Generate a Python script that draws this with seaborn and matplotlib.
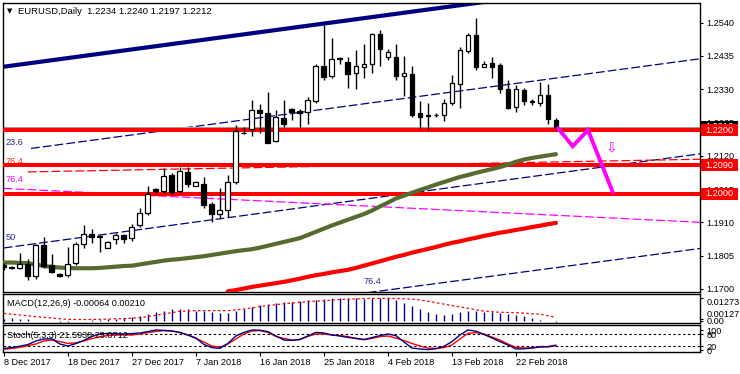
import numpy as np
import matplotlib
matplotlib.use("Agg")
import matplotlib.pyplot as plt
import matplotlib.transforms as mtransforms
from matplotlib.patches import Rectangle
import seaborn as sns

# ---------------- data ----------------
date_labels = ["8 Dec 2017", "18 Dec 2017", "27 Dec 2017", "7 Jan 2018", "16 Jan 2018",
               "25 Jan 2018", "4 Feb 2018", "13 Feb 2018", "22 Feb 2018"]
date_bars = [0, 8, 16, 24, 32, 40, 48, 56, 64]

opens = [1.1775, 1.1769, 1.1766, 1.1777, 1.1741, 1.1837, 1.1774, 1.1746, 1.1745, 1.1783,
         1.1840, 1.1873, 1.1866, 1.1830, 1.1856, 1.1869, 1.1859, 1.1900, 1.1938, 1.2016,
         1.2009, 1.2059, 1.2009, 1.2068, 1.2026, 1.2030, 1.1967, 1.1935, 1.1948, 1.2036,
         1.2193, 1.2203, 1.2264, 1.2256, 1.2165, 1.2239, 1.2267, 1.2261, 1.2257, 1.2293,
         1.2403, 1.2373, 1.2424, 1.2415, 1.2381, 1.2400, 1.2411, 1.2504, 1.2432, 1.2431,
         1.2372, 1.2378, 1.2254, 1.2250, 1.2248, 1.2250, 1.2288, 1.2345, 1.2451, 1.2501,
         1.2401, 1.2414, 1.2406, 1.2332, 1.2274, 1.2327, 1.2292, 1.2285, 1.2311, 1.2234]
highs = [1.1781, 1.1772, 1.1812, 1.1793, 1.1842, 1.1862, 1.1809, 1.1749, 1.1831, 1.1848,
         1.1901, 1.1888, 1.1869, 1.1852, 1.1877, 1.1873, 1.1906, 1.1956, 1.2024, 1.2019,
         1.2080, 1.2064, 1.2085, 1.2083, 1.2039, 1.2052, 1.1974, 1.2017, 1.2059, 1.2216,
         1.2211, 1.2296, 1.2283, 1.2321, 1.2264, 1.2296, 1.2271, 1.2266, 1.2304, 1.2411,
         1.2532, 1.2490, 1.2431, 1.2432, 1.2453, 1.2472, 1.2508, 1.2516, 1.2456, 1.2474,
         1.2434, 1.2403, 1.2293, 1.2285, 1.2255, 1.2298, 1.2374, 1.2464, 1.2506, 1.2556,
         1.2420, 1.2432, 1.2413, 1.2359, 1.2343, 1.2334, 1.2298, 1.2353, 1.2346, 1.2240]
lows = [1.1759, 1.1762, 1.1763, 1.1728, 1.1730, 1.1765, 1.1749, 1.1738, 1.1738, 1.1775,
        1.1828, 1.1845, 1.1815, 1.1828, 1.1843, 1.1845, 1.1852, 1.1896, 1.1933, 1.2001,
        1.2001, 1.1997, 1.2003, 1.2020, 1.2024, 1.1954, 1.1912, 1.1919, 1.1927, 1.2030,
        1.2189, 1.2182, 1.2192, 1.2159, 1.2162, 1.2211, 1.2232, 1.2211, 1.2220, 1.2287,
        1.2359, 1.2364, 1.2409, 1.2334, 1.2330, 1.2364, 1.2382, 1.2403, 1.2422, 1.2359,
        1.2308, 1.2243, 1.2206, 1.2201, 1.2241, 1.2230, 1.2280, 1.2271, 1.2445, 1.2390,
        1.2399, 1.2366, 1.2317, 1.2269, 1.2257, 1.2280, 1.2280, 1.2278, 1.2219, 1.2197]
closes = [1.1769, 1.1765, 1.1777, 1.1741, 1.1837, 1.1772, 1.1754, 1.1742, 1.1779, 1.1840,
          1.1872, 1.1864, 1.1862, 1.1848, 1.1869, 1.1858, 1.1896, 1.1938, 1.1998, 1.2009,
          1.2056, 1.2007, 1.2071, 1.2030, 1.2036, 1.1966, 1.1935, 1.1948, 1.2036, 1.2197,
          1.2191, 1.2264, 1.2254, 1.2161, 1.2241, 1.2220, 1.2257, 1.2256, 1.2296, 1.2403,
          1.2369, 1.2424, 1.2430, 1.2378, 1.2403, 1.2409, 1.2504, 1.2457, 1.2447, 1.2372,
          1.2381, 1.2248, 1.2243, 1.2246, 1.2247, 1.2288, 1.2348, 1.2453, 1.2501, 1.2401,
          1.2411, 1.2401, 1.2330, 1.2271, 1.2330, 1.2293, 1.2291, 1.2311, 1.2235, 1.2212]

ma_olive = [1.1783, 1.1783, 1.1782, 1.1781, 1.1777, 1.1772, 1.1769, 1.1767, 1.1766, 1.1765,
            1.1765, 1.1765, 1.1766, 1.1768, 1.1770, 1.1772, 1.1773, 1.1777, 1.1781, 1.1785,
            1.1789, 1.1792, 1.1794, 1.1797, 1.1800, 1.1803, 1.1807, 1.1811, 1.1815, 1.1819,
            1.1822, 1.1825, 1.1830, 1.1836, 1.1842, 1.1848, 1.1854, 1.1860, 1.1870, 1.1880,
            1.1890, 1.1900, 1.1909, 1.1918, 1.1927, 1.1936, 1.1947, 1.1960, 1.1972, 1.1985,
            1.1994, 1.2003, 1.2012, 1.2020, 1.2029, 1.2037, 1.2045, 1.2053, 1.2059, 1.2066,
            1.2072, 1.2078, 1.2084, 1.2092, 1.2101, 1.2108, 1.2113, 1.2117, 1.2121, 1.2125]
ma_red_start = 28
ma_red = [1.1692, 1.1696, 1.1701, 1.1706, 1.1710, 1.1714, 1.1718, 1.1722, 1.1727, 1.1732,
          1.1738, 1.1743, 1.1747, 1.1752, 1.1756, 1.1760, 1.1766, 1.1773, 1.1780, 1.1787,
          1.1794, 1.1801, 1.1807, 1.1814, 1.1820, 1.1826, 1.1832, 1.1839, 1.1845, 1.1850,
          1.1856, 1.1861, 1.1867, 1.1872, 1.1877, 1.1881, 1.1886, 1.1890, 1.1895, 1.1899,
          1.1904, 1.1908]

macd_main = [0.0010, 0.0017, 0.0012, 0.0010, 0.0003, 0.0002, -0.0001, -0.0003, -0.0002, 0.0000,
             0.0003, 0.0007, 0.0007, 0.0011, 0.0015, 0.0017, 0.0022, 0.0030, 0.0041, 0.0052,
             0.0059, 0.0066, 0.0070, 0.0066, 0.0059, 0.0055, 0.0052, 0.0048, 0.0048, 0.0059,
             0.0066, 0.0077, 0.0092, 0.0096, 0.0103, 0.0109, 0.0109, 0.0114, 0.0118, 0.0118,
             0.0122, 0.0127, 0.0127, 0.0127, 0.0127, 0.0124, 0.0127, 0.0127, 0.0127, 0.0118,
             0.0103, 0.0085, 0.0066, 0.0052, 0.0041, 0.0035, 0.0041, 0.0050, 0.0059, 0.0055,
             0.0054, 0.0050, 0.0046, 0.0041, 0.0035, 0.0028, 0.0018, 0.0009, 0.0004, -0.00064]
macd_signal = [0.0044, 0.0039, 0.0035, 0.0030, 0.0026, 0.0022, 0.0018, 0.0014, 0.0011, 0.0010,
               0.0010, 0.0010, 0.0011, 0.0012, 0.0014, 0.0015, 0.0017, 0.0021, 0.0026, 0.0033,
               0.0041, 0.0048, 0.0055, 0.0057, 0.0059, 0.0059, 0.0059, 0.0059, 0.0059, 0.0063,
               0.0068, 0.0074, 0.0081, 0.0087, 0.0092, 0.0097, 0.0101, 0.0105, 0.0109, 0.0112,
               0.0114, 0.0117, 0.0120, 0.0122, 0.0124, 0.0126, 0.0127, 0.0127, 0.0127, 0.0126,
               0.0125, 0.0123, 0.0118, 0.0111, 0.0103, 0.0095, 0.0087, 0.0080, 0.0072, 0.0064,
               0.0057, 0.0053, 0.0050, 0.0049, 0.0048, 0.0045, 0.0042, 0.0039, 0.0031, 0.0021]

stoch_k = [8, 12, 19, 27, 45, 55, 56, 30, 20, 32, 48, 68, 80, 83, 81, 80, 82, 85, 92, 100,
           98, 95, 88, 75, 60, 28, 12, 8, 33, 70, 88, 100, 99, 92, 70, 50, 48, 53, 70, 88,
           85, 75, 70, 63, 58, 52, 62, 72, 80, 72, 40, 10, 5, 2, 6, 18, 42, 75, 100, 94,
           78, 60, 42, 25, 5, 6, 10, 15, 16, 21.59]
stoch_d = [3, 8, 13, 22, 30, 45, 50, 42, 33, 36, 45, 57, 67, 72, 75, 75, 75, 80, 87, 93,
           97, 95, 87, 75, 58, 40, 20, 13, 30, 55, 80, 95, 97, 88, 68, 58, 50, 52, 68, 80,
           80, 75, 72, 67, 58, 52, 58, 67, 70, 60, 47, 33, 20, 10, 8, 12, 25, 55, 83, 87,
           80, 65, 50, 30, 13, 10, 11, 17, 17, 25.07]

levels = [1.2200, 1.2090, 1.2000]
bid_price = 1.2212
price_ticks = [1.2540, 1.2435, 1.2330, 1.2225, 1.2120, 1.2015, 1.1910, 1.1805, 1.1700]

# analyst drawings (bar index, price)
chan_main_x, chan_main_y = [0, 62], [1.2401, 1.2612]
chan236_x, chan236_y = [3.4, 87], [1.2143, 1.2426]
chan50_x, chan50_y = [0, 87], [1.1829, 1.2126]
chan764_x, chan764_y = [44, 87.2], [1.1683, 1.1828]
fib_red_x, fib_red_y = [3, 87], [1.2069, 1.2109]
fib_mag_x, fib_mag_y = [0, 87], [1.2017, 1.1910]
arrow_x = [69.25, 71.1, 73.0, 76.1]
arrow_y = [1.2207, 1.2150, 1.2201, 1.2005]

# ---------------- style ----------------
sns.set_style("white")
plt.rcParams['font.family'] = ['Liberation Sans', 'DejaVu Sans']
FS = 6.6
NAVY = '#000080'

W, H = 740, 374
fig = plt.figure(figsize=(W / 100, H / 100), dpi=100, facecolor='white')


def rect(x0, y0, x1, y1):
    return [x0 / W, 1 - y1 / H, (x1 - x0) / W, (y1 - y0) / H]


ax = fig.add_axes(rect(3, 3, 700, 292))
axm = fig.add_axes(rect(3, 294, 700, 323), sharex=ax)
axs = fig.add_axes(rect(3, 325, 700, 352), sharex=ax)

bars = np.arange(len(closes))
o, h, l, c = map(np.array, (opens, highs, lows, closes))

for a in (ax, axm, axs):
    for s in a.spines.values():
        s.set_color('black')
        s.set_linewidth(1.0)
    a.set_facecolor('white')
    a.yaxis.tick_right()
    a.tick_params(axis='y', which='both', right=True, length=2.5, width=0.8,
                  pad=2, labelsize=FS, colors='black')

# ---------------- main panel ----------------
dash = (0, (7, 2.5))
ax.plot(chan_main_x, chan_main_y, color=NAVY, lw=3, zorder=2, solid_capstyle='butt')
ax.plot(chan236_x, chan236_y, color=NAVY, lw=0.9, ls=dash, zorder=2)
ax.plot(chan50_x, chan50_y, color=NAVY, lw=0.9, ls=dash, zorder=2)
ax.plot(chan764_x, chan764_y, color=NAVY, lw=0.9, ls=dash, zorder=2)
ax.plot(fib_red_x, fib_red_y, color='red', lw=0.9, ls=dash, zorder=2)
ax.plot(fib_mag_x, fib_mag_y, color='magenta', lw=0.9, ls=dash, zorder=2)

ax.text(0.2, 1.2163, "23.6", color='#2a2a9a', fontsize=FS, va='center', ha='left', zorder=2)
ax.text(0.2, 1.2101, "76.4", color='#ff3010', fontsize=FS, va='center', ha='left', zorder=2)
ax.text(0.2, 1.2046, "76.4", color='magenta', fontsize=FS, va='center', ha='left', zorder=2)
ax.text(0.2, 1.1863, "50", color='#2a2a9a', fontsize=FS, va='center', ha='left', zorder=2)
ax.text(44.9, 1.1724, "76.4", color='#2a2a9a', fontsize=FS, va='center', ha='left', zorder=2)

ax.axhline(bid_price, color='#a0a0a0', lw=0.8, zorder=2)
for lv in levels:
    ax.axhline(lv, color='red', lw=2.9, zorder=3)

sns.lineplot(x=bars, y=ma_olive, ax=ax, color='#556B2F', lw=3, zorder=3)
sns.lineplot(x=bars[ma_red_start:], y=ma_red, ax=ax, color='red', lw=3, zorder=3)

# candles
ax.vlines(bars, l, h, color='black', lw=1.0, zorder=4)
up = c >= o
body_bottom = np.minimum(o, c)
body_h = np.maximum(np.abs(c - o), 0.00004)
ax.bar(bars[up], body_h[up], bottom=body_bottom[up], width=0.6, color='white',
       edgecolor='black', lw=0.9, zorder=5)
ax.bar(bars[~up], body_h[~up], bottom=body_bottom[~up], width=0.6, color='black',
       edgecolor='black', lw=0.9, zorder=5)

# forecast arrow
ax.plot(arrow_x, arrow_y, color='magenta', lw=2.8, zorder=6, solid_joinstyle='miter')
ax.text(75.9, 1.2147, "\u21e9", color='magenta', fontsize=10, ha='center', va='center',
        family=['DejaVu Sans'], zorder=6)

ax.set_ylim(1.1690, 1.2602)
ax.set_xlim(-0.1, 87.0)
ax.set_yticks(price_ticks)
ax.set_yticklabels([f"{p:.4f}" for p in price_ticks])
ax.tick_params(axis='x', bottom=False, labelbottom=False)

# right side price boxes
btr = mtransforms.blended_transform_factory(ax.transAxes, ax.transData)
bx0 = (701 - 3) / 697
bw = (738 - 701) / 697
half = 0.0019
ax.add_patch(Rectangle((bx0, bid_price - half), bw, 2 * half, transform=btr,
                       facecolor='black', edgecolor='none', clip_on=False, zorder=7))
ax.text(bx0 + bw / 2, bid_price, f"{bid_price:.4f}", transform=btr, color='white',
        fontsize=FS, ha='center', va='center', clip_on=False, zorder=7.5)
for lv in levels:
    ax.add_patch(Rectangle((bx0, lv - half), bw, 2 * half, transform=btr,
                           facecolor='red', edgecolor='none', clip_on=False, zorder=8))
    ax.text(bx0 + bw / 2, lv, f"{lv:.4f}", transform=btr, color='white', fontsize=FS,
            ha='center', va='center', clip_on=False, zorder=9)

# ---------------- MACD ----------------
axm.vlines(bars, 0, macd_main, color=NAVY, lw=1.0, zorder=3)
axm.plot(bars, macd_signal, color='red', lw=0.9, ls=(0, (2, 2)), zorder=4)
axm.set_ylim(-0.00094, 0.0151)
axm.set_yticks([0.01273, 0.00127, 0.0])
axm.set_yticklabels(["0.01273", "0.00127", "0.00"])
for lbl, va in zip(axm.get_yticklabels(), ['top', 'bottom', 'center']):
    lbl.set_va(va)
axm.tick_params(axis='x', bottom=False, labelbottom=False)

# ---------------- Stochastic ----------------
axs.axhline(80, color='black', lw=0.8, ls=(0, (2.2, 2.2)), zorder=2)
axs.axhline(20, color='black', lw=0.8, ls=(0, (2.2, 2.2)), zorder=2)
sns.lineplot(x=bars, y=stoch_d, ax=axs, color='red', lw=1.0, zorder=3)
sns.lineplot(x=bars, y=stoch_k, ax=axs, color=NAVY, lw=1.0, zorder=4)
axs.set_ylim(-10, 125)
axs.set_yticks([100, 80, 20, 0])
axs.set_yticklabels(["100", "80", "20", "0"])
axs.set_xticks(date_bars)
axs.set_xticklabels(date_labels)
for lbl in axs.get_xticklabels():
    lbl.set_ha('left')
axs.tick_params(axis='x', bottom=True, labelbottom=True, length=3, width=0.8,
                pad=1.5, labelsize=FS, colors='black')
axs.set_xlim(-0.1, 87.0)
for a in (ax, axm, axs):
    a.set_xlabel("")
    a.set_ylabel("")

# ---------------- texts ----------------
fig.text(7 / W, 1 - 11 / H, "\u25bc", fontsize=5, color='black', va='center', ha='left',
         family=['DejaVu Sans'])
fig.text(18 / W, 1 - 11 / H, "EURUSD,Daily  1.2234 1.2240 1.2197 1.2212", fontsize=6.8,
         color='black', va='center', ha='left')
fig.text(7 / W, 1 - 304 / H, "MACD(12,26,9) -0.00064 0.00210", fontsize=FS,
         color='black', va='center', ha='left', zorder=10)
fig.text(7 / W, 1 - 335 / H, "Stoch(5,3,3) 21.5938 25.0712", fontsize=FS,
         color='black', va='center', ha='left', zorder=10)

fig.savefig("out.png", dpi=100, facecolor='white')
